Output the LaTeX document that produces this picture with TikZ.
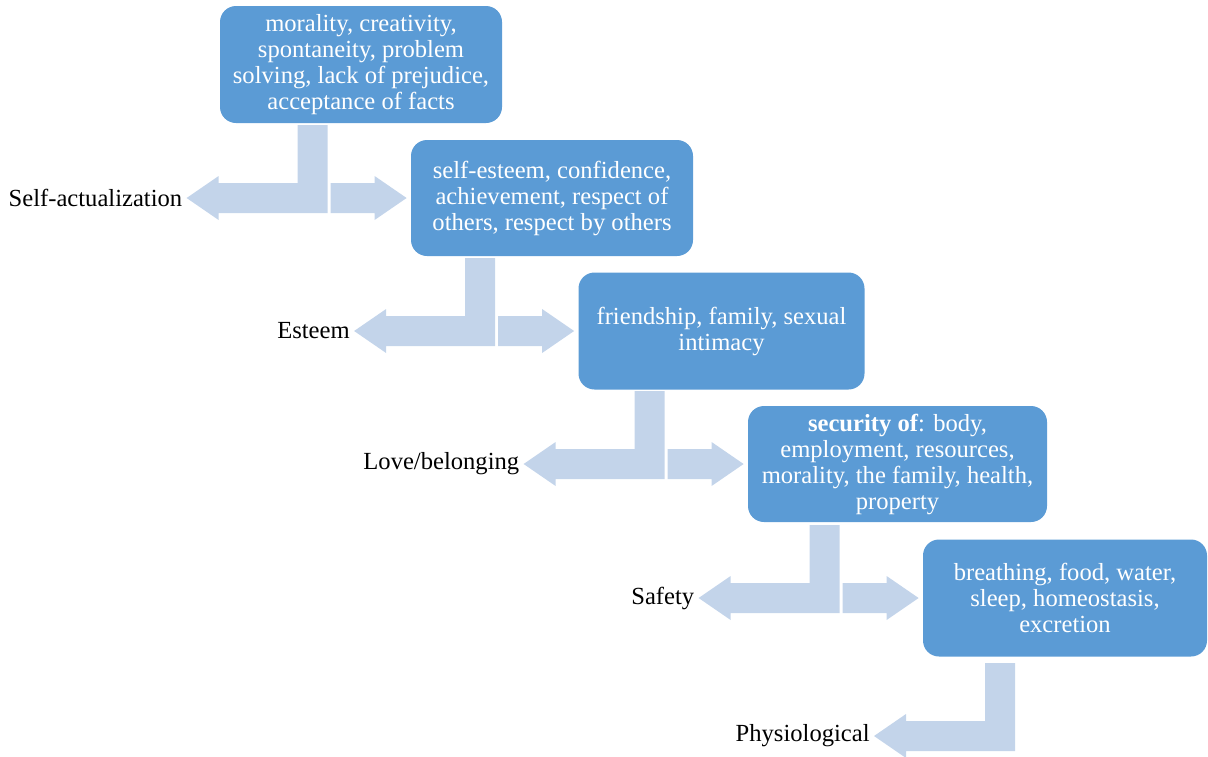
\documentclass[tikz,border=0pt]{standalone}
\usepackage{fontspec}
\setmainfont{Liberation Serif}
\definecolor{boxblue}{HTML}{5B9BD5}
\definecolor{arrowblue}{HTML}{C3D4EA}

\begin{document}
\begin{tikzpicture}[x=0.5pt,y=-0.5pt]
        \tikzset{
            needbox/.style={fill=boxblue,text=white,rounded corners=8pt,align=center,inner sep=2pt,
                font=\fontsize{12.3}{13}\selectfont},
            blockarrow/.style={fill=arrowblue},
            levellabel/.style={font=\fontsize{12.3}{13}\selectfont,anchor=east,inner sep=0pt}
        }

        \useasboundingbox (0,0) rectangle (1208,756);

        \node[needbox,minimum width=141pt,minimum height=58.5pt] (b1) at (361,64.5)
            {morality, creativity,\\ spontaneity, problem\\ solving, lack of prejudice,\\ acceptance of facts};
        \node[needbox,minimum width=141pt,minimum height=58pt] (b2) at (552,198)
            {self-esteem, confidence,\\ achievement, respect of\\ others, respect by others};
        \node[needbox,minimum width=143pt,minimum height=58.5pt] (b3) at (721.5,331)
            {friendship, family, sexual\\ intimacy};
        \node[needbox,minimum width=149.5pt,minimum height=58pt] (b4) at (897.5,464)
            {\textbf{security of}: body,\\ employment, resources,\\ morality, the family, health,\\ property};
        \node[needbox,minimum width=142pt,minimum height=58.5pt] (b5) at (1065,598)
            {breathing, food, water,\\ sleep, homeostasis,\\ excretion};
        \coordinate (b6) at (1098,736);

        \foreach \nb/\lbl/\nm in {b2/Self-actualization/selfact, b3/Esteem/esteem,
                b4/{Love/belonging}/love, b5/Safety/safety} {
            \begin{scope}[shift={(\nb.west)}]
                \fill[blockarrow] (-113,-73) -- (-83,-73) -- (-83,15) -- (-192,15) -- (-192,22)
                    -- (-224,0) -- (-192,-22) -- (-192,-15) -- (-113,-15) -- cycle;
                \fill[blockarrow] (-80,-15) -- (-36,-15) -- (-36,-22) -- (-4,0) -- (-36,22)
                    -- (-36,15) -- (-80,15) -- cycle;
                \node[levellabel] (\nm) at (-228,0) {\lbl};
            \end{scope}
        }

        \begin{scope}[shift={(b6)}]
            \fill[blockarrow] (-113,-73) -- (-83,-73) -- (-83,15) -- (-192,15) -- (-192,22)
                -- (-224,0) -- (-192,-22) -- (-192,-15) -- (-113,-15) -- cycle;
            \node[levellabel] (physio) at (-228,0) {Physiological};
        \end{scope}
    \end{tikzpicture}
\end{document}
